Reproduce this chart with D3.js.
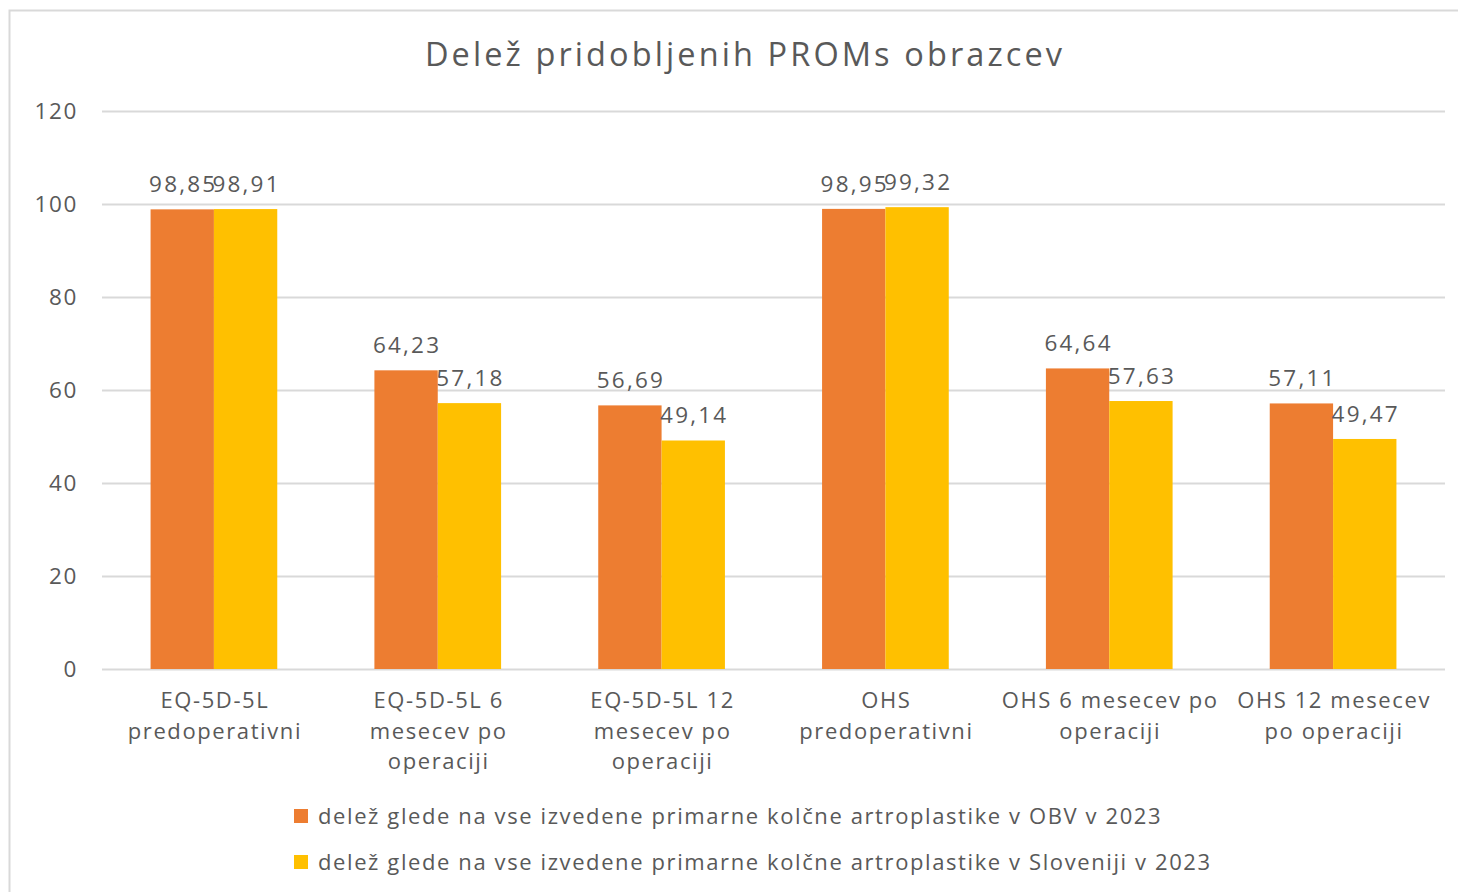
<!DOCTYPE html>
<html>
<head>
<meta charset="utf-8">
<script src="https://cdn.jsdelivr.net/npm/d3@7"></script>
<style>
  body { margin: 0; background: #fff; }
  svg text { font-family: "Open Sans", sans-serif; fill: #595959; }
</style>
</head>
<body>
<div id="chart"></div>
<script>
// data
var categories = [
  "EQ-5D-5L predoperativni",
  "EQ-5D-5L 6 mesecev po operaciji",
  "EQ-5D-5L 12 mesecev po operaciji",
  "OHS predoperativni",
  "OHS 6 mesecev po operaciji",
  "OHS 12 mesecev po operaciji"
];
// how the category labels wrap in the picture
var categoryLines = [
  ["EQ-5D-5L", "predoperativni"],
  ["EQ-5D-5L 6", "mesecev po", "operaciji"],
  ["EQ-5D-5L 12", "mesecev po", "operaciji"],
  ["OHS", "predoperativni"],
  ["OHS 6 mesecev po", "operaciji"],
  ["OHS 12 mesecev", "po operaciji"]
];
var seriesNames = [
  "delež glede na vse izvedene primarne kolčne artroplastike v OBV v 2023",
  "delež glede na vse izvedene primarne kolčne artroplastike v Sloveniji v 2023"
];
var obvValues = [98.85, 64.23, 56.69, 98.95, 64.64, 57.11];
var sloValues = [98.91, 57.18, 49.14, 99.32, 57.63, 49.47];
var yTicks = [0, 20, 40, 60, 80, 100, 120];
var colors = ["#ED7D31", "#FFC000"];
var title = "Delež pridobljenih PROMs obrazcev";

var W = 1458, H = 892;
var margin = {top: 111, right: 13, bottom: 223, left: 102},
    width = W - margin.left - margin.right,
    height = H - margin.top - margin.bottom;

var svg = d3.select("#chart").append("svg")
    .attr("width", W)
    .attr("height", H);

// outer chart border
svg.append("rect")
    .attr("x", 9.5).attr("y", 10.5)
    .attr("width", W + 10).attr("height", H + 10)
    .attr("fill", "none")
    .attr("stroke", "#D9D9D9")
    .attr("stroke-width", 2);

svg.append("text")
    .attr("x", 745)
    .attr("y", 66)
    .attr("text-anchor", "middle")
    .style("font-size", "32.5px")
    .style("letter-spacing", "3.1px")
    .text(title);

var g = svg.append("g")
    .attr("transform", "translate(" + margin.left + "," + margin.top + ")");

var x0 = d3.scaleBand()
    .domain(categories)
    .range([0, width])
    .paddingInner(0.434)
    .paddingOuter(0.217);

var x1 = d3.scaleBand()
    .domain([0, 1])
    .range([0, x0.bandwidth()]);

var y = d3.scaleLinear()
    .domain([0, 120])
    .range([height, 0]);

// gridlines
var yAxis = d3.axisLeft(y)
    .tickValues(yTicks)
    .tickSize(-width)
    .tickPadding(24);

var yg = g.append("g").attr("class", "y axis").call(yAxis);
yg.select(".domain").remove();
yg.selectAll(".tick line").attr("stroke", "#D9D9D9").attr("stroke-width", 2);
yg.selectAll(".tick text")
    .style("font-size", "22.5px")
    .style("letter-spacing", "1.6px")
    .attr("fill", "#595959");

var data = categories.map(function(c, i) {
  return {name: c, lines: categoryLines[i], values: [obvValues[i], sloValues[i]]};
});

var category = g.selectAll(".category")
    .data(data)
  .enter().append("g")
    .attr("class", "category")
    .attr("transform", function(d) { return "translate(" + x0(d.name) + ",0)"; });

category.selectAll("rect")
    .data(function(d) { return d.values.map(function(v, k) { return {k: k, value: v}; }); })
  .enter().append("rect")
    .attr("x", function(d) { return x1(d.k); })
    .attr("y", function(d) { return y(d.value); })
    .attr("width", x1.bandwidth())
    .attr("height", function(d) { return height - y(d.value); })
    .attr("fill", function(d) { return colors[d.k]; });

category.selectAll(".lbl")
    .data(function(d) { return d.values.map(function(v, k) { return {k: k, value: v}; }); })
  .enter().append("text")
    .attr("class", "lbl")
    .attr("x", function(d) { return x1(d.k) + x1.bandwidth() / 2 + 1; })
    .attr("y", function(d) { return y(d.value) - 17; })
    .attr("text-anchor", "middle")
    .style("font-size", "22.5px")
    .style("letter-spacing", "2.2px")
    .text(function(d) { return d.value.toFixed(2).replace(".", ","); });

// category labels
category.append("text")
    .attr("text-anchor", "middle")
    .style("font-size", "22px")
    .style("letter-spacing", "1.6px")
    .attr("transform", function() { return "translate(" + (x0.bandwidth() / 2 + 1) + "," + (height + 39) + ")"; })
    .selectAll("tspan")
    .data(function(d) { return d.lines; })
  .enter().append("tspan")
    .attr("x", 0)
    .attr("dy", function(d, i) { return i === 0 ? 0 : 30.5; })
    .text(function(d) { return d; });

// legend
var legend = svg.selectAll(".legend")
    .data(seriesNames)
  .enter().append("g")
    .attr("class", "legend")
    .attr("transform", function(d, i) { return "translate(294," + (816 + i * 46) + ")"; });

legend.append("rect")
    .attr("x", 0).attr("y", -7)
    .attr("width", 14).attr("height", 14)
    .attr("fill", function(d, i) { return colors[i]; });

legend.append("text")
    .attr("x", 24)
    .attr("y", 8)
    .style("font-size", "22px")
    .style("letter-spacing", "1.6px")
    .text(function(d) { return d; });
</script>
</body>
</html>
